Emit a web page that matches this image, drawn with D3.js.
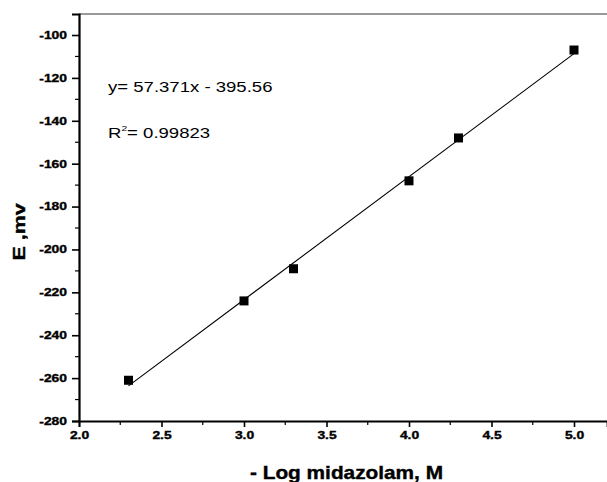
<!DOCTYPE html>
<html>
<head>
  <meta charset="utf-8">
  <script src="https://d3js.org/d3.v7.min.js"></script>
  <style>
    body { margin: 0; background: #fff; }
    svg { font-family: Arial, "Liberation Sans", sans-serif; }
  </style>
</head>
<body>
  <svg id="chart"></svg>
  <script>
    // measured data
    const logConc = [2.3, 3.0, 3.3, 4.0, 4.3, 5.0];
    const potential = [-261, -224, -209, -168, -148, -107];
    const slope = 57.371, intercept = -395.56;
    const xTicks = [2.0, 2.5, 3.0, 3.5, 4.0, 4.5, 5.0];
    const yTicks = [-280, -260, -240, -220, -200, -180, -160, -140, -120, -100];

    const W = 607, H = 482;
    const margin = {top: 14, right: 0, bottom: 61, left: 79};
    const width = W - margin.left - margin.right,
          height = H - margin.top - margin.bottom;
    const stretch = 1.32; // text in the original is widened

    const svg = d3.select("#chart").attr("width", W).attr("height", H);
    const g = svg.append("g").attr("transform", `translate(${margin.left},${margin.top})`);

    const x = d3.scaleLinear().domain([2.0, 5.2]).range([0, width]);
    const y = d3.scaleLinear().domain([-280, -90.2]).range([height, 0]);

    // top frame line
    g.append("line")
      .attr("x1", 0).attr("x2", width).attr("y1", 0).attr("y2", 0)
      .attr("stroke", "#777").attr("stroke-width", 1.5);

    // minor ticks
    const xMinor = d3.range(2.25, 5.2, 0.5);
    const yMinor = d3.range(-270, -90, 20);

    g.append("g").selectAll("line").data(xMinor).join("line")
      .attr("x1", d => x(d)).attr("x2", d => x(d))
      .attr("y1", height).attr("y2", height + 4)
      .attr("stroke", "#000").attr("stroke-width", 1.2);
    g.append("g").selectAll("line").data(yMinor).join("line")
      .attr("x1", -4).attr("x2", 0)
      .attr("y1", d => y(d)).attr("y2", d => y(d))
      .attr("stroke", "#000").attr("stroke-width", 1.2);

    const xAxis = d3.axisBottom(x).tickValues(xTicks).tickFormat(d3.format(".1f")).tickSize(6).tickPadding(5);
    const yAxis = d3.axisLeft(y).tickValues(yTicks).tickFormat(d => String(d)).tickSize(7).tickPadding(4);

    const gx = g.append("g").attr("transform", `translate(0,${height})`).call(xAxis);
    gx.select(".domain").attr("stroke-width", 1.8);
    gx.selectAll(".tick line").attr("stroke-width", 1.6);
    gx.selectAll("text")
      .style("font-size", "10.5px").style("font-weight", "bold").attr("fill", "#000")
      .attr("stroke", "#000").attr("stroke-width", 0.35)
      .attr("transform", `scale(${stretch},1)`);

    const gy = g.append("g").call(yAxis);
    gy.select(".domain").attr("stroke-width", 2.2);
    gy.selectAll(".tick line").attr("stroke-width", 1.6);
    gy.selectAll("text")
      .style("font-size", "10.5px").style("font-weight", "bold").attr("fill", "#000")
      .attr("stroke", "#000").attr("stroke-width", 0.35)
      .attr("x", -12 / stretch)
      .attr("transform", `scale(${stretch},1)`);

    // fit line
    const xFit = d3.extent(logConc);
    g.append("line")
      .attr("x1", x(xFit[0])).attr("y1", y(slope * xFit[0] + intercept))
      .attr("x2", x(xFit[1])).attr("y2", y(slope * xFit[1] + intercept))
      .attr("stroke", "#000").attr("stroke-width", 1.1);

    // points
    const s = 9;
    g.selectAll("rect.pt").data(logConc).join("rect")
      .attr("class", "pt")
      .attr("x", d => x(d) - s / 2)
      .attr("y", (d, i) => y(potential[i]) - s / 2)
      .attr("width", s).attr("height", s)
      .attr("fill", "#000");

    // equation text
    g.append("text")
      .attr("transform", `translate(29,78) scale(1.28,1)`)
      .style("font-size", "14.5px")
      .text("y= 57.371x - 395.56");
    const r2 = g.append("text")
      .attr("transform", `translate(29,124) scale(1.28,1)`)
      .style("font-size", "14.5px");
    r2.append("tspan").text("R");
    r2.append("tspan").attr("dy", -7).style("font-size", "8px").text("2");
    r2.append("tspan").attr("dy", 7).text("= 0.99823");

    // axis titles
    svg.append("text")
      .attr("x", 250).attr("y", 479)
      .attr("textLength", 193).attr("lengthAdjust", "spacingAndGlyphs")
      .style("font-size", "19px").style("font-weight", "bold")
      .attr("stroke", "#000").attr("stroke-width", 0.4)
      .text("- Log midazolam, M");

    svg.append("text")
      .attr("transform", "translate(25,232) rotate(-90)")
      .attr("text-anchor", "middle")
      .style("font-size", "17px").style("font-weight", "bold")
      .attr("stroke", "#000").attr("stroke-width", 0.4)
      .attr("textLength", 57).attr("lengthAdjust", "spacingAndGlyphs")
      .text("E ,mv");
  </script>
</body>
</html>
